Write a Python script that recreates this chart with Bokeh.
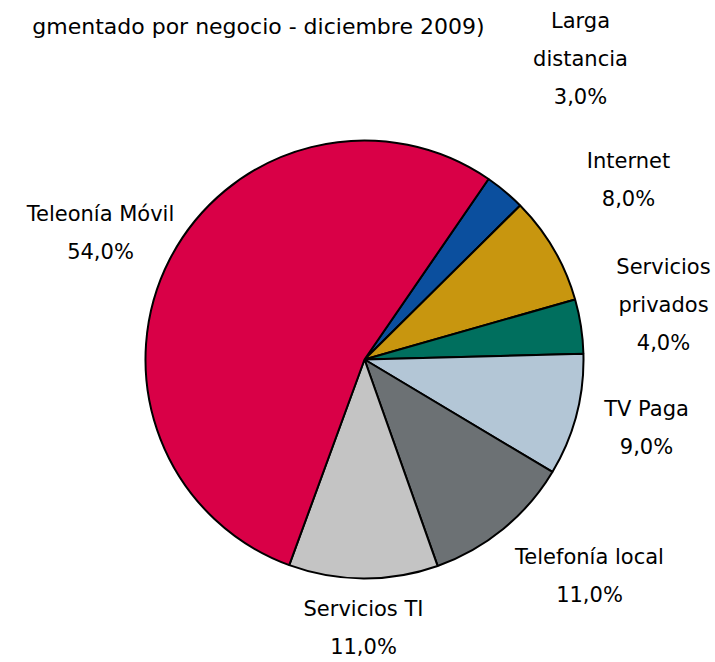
import math
from bokeh.plotting import figure
from bokeh.models import Range1d, ColumnDataSource
from bokeh.core.properties import value
from bokeh.embed import file_html
from bokeh.resources import INLINE

# ---- data ----
categories = ["Larga distancia", "Internet", "Servicios privados", "TV Paga",
              "Telefonía local", "Servicios TI", "Teleonía Móvil"]
shares = [3.0, 8.0, 4.0, 9.0, 11.0, 11.0, 54.0]
label_lines = [["Larga", "distancia"], ["Internet"], ["Servicios", "privados"],
               ["TV Paga"], ["Telefonía local"], ["Servicios TI"], ["Teleonía Móvil"]]
colors = ["#0B4F9E", "#C8960F", "#006F5E", "#B3C6D6", "#6C7174", "#C4C4C4", "#D90047"]
title_text = "gmentado por negocio - diciembre 2009)"

# ---- layout (picture pixels) ----
W, H = 715, 662
CX, CY, R = 364, 359, 219
START_DEG = 34.5  # clockwise from 12 o'clock
label_pos = [(580, 20), (628, 160), (663, 266), (646, 408), (589, 556), (363, 608), (100, 213)]
LINE_GAP = 38
FONT = value("DejaVu Sans")
FSIZE = "21px"

p = figure(width=W, height=H, output_backend="svg", toolbar_location=None,
           x_range=Range1d(0, W), y_range=Range1d(0, H),
           x_axis_type=None, y_axis_type=None, min_border=0,
           outline_line_color=None, background_fill_color="white",
           border_fill_color="white")
p.grid.visible = False

def sy(y):
    return H - y

total = sum(shares)
starts, ends = [], []
acc = 0.0
for s in shares:
    a0 = START_DEG + acc / total * 360.0
    a1 = START_DEG + (acc + s) / total * 360.0
    starts.append(math.radians(90 - a0))
    ends.append(math.radians(90 - a1))
    acc += s

src = ColumnDataSource(dict(start=starts, end=ends, color=colors,
                            x=[CX] * len(shares), y=[sy(CY)] * len(shares)))
p.wedge(x="x", y="y", radius=R, start_angle="start", end_angle="end",
        direction="clock", fill_color="color", line_color="black", line_width=2,
        source=src)

# labels
tx, ty, tt = [], [], []
for (lx, ly), lines, s in zip(label_pos, label_lines, shares):
    all_lines = lines + [f"{s:.1f}".replace(".", ",") + "%"]
    for i, t in enumerate(all_lines):
        tx.append(lx)
        ty.append(sy(ly + i * LINE_GAP))
        tt.append(t)
p.text(x=tx, y=ty, text=tt, text_align="center", text_baseline="middle",
       text_font=FONT, text_font_size=FSIZE, text_color="black")

p.text(x=[484], y=[sy(26)], text=[title_text], text_align="right",
       text_baseline="middle", text_font=FONT, text_font_size="22px",
       text_color="black")

open("out.html", "w").write(file_html(p, INLINE))
